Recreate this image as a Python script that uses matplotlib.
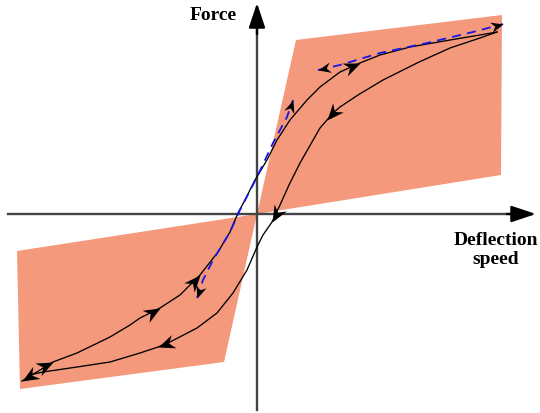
import numpy as np
import matplotlib
matplotlib.use('Agg')
import matplotlib.pyplot as plt
from matplotlib.markers import MarkerStyle
from matplotlib.path import Path
from matplotlib.transforms import Affine2D

# coordinates are relative to the origin of the force / deflection speed axes
upper_zone = [(0, 0), (39, 174), (245, 199), (244, 39)]
lower_zone = [(0, 0), (-33, -148), (-237, -175), (-240, -37)]

loading_x = [-235, -225, -204, -180, -147, -127, -117, -97, -77, -57, -39, -27, -19, -12, -2,
             10, 20, 33, 50, 63, 83, 103, 123, 153, 193, 223, 240]
loading_y = [-167, -161, -148, -139, -123, -111, -104, -94, -81, -61, -38, -18, 1, 14, 34,
             54, 74, 94, 114, 127, 142, 151, 159, 167, 174, 179, 182]

unloading_x = [240, 223, 193, 160, 126, 101, 83, 76, 70, 63, 43, 32, 23, 15, 6, 0, -10, -24,
               -40, -60, -87, -99, -117, -147, -180, -214, -228]
unloading_y = [182, 176, 166, 151, 134, 119, 107, 101, 94, 86, 51, 29, 9, -8, -21, -33, -56, -79,
               -99, -114, -128, -133, -139, -148, -153, -158, -161]

mid_dash_x = [-60, -54, -44, -39, -27, -17, 0, 16, 30, 36]
mid_dash_y = [-84, -66, -46, -38, -18, 4, 37, 71, 97, 114]

top_dash_x = [61, 83, 123, 170, 216, 246]
top_dash_y = [144, 149, 161, 171, 182, 190]

# point indices where an arrow head sits, pointing along the curve
loading_arrows = [2, 7, 9, 21]
unloading_arrows = [8, 13, 21]

salmon = '#f4997b'
axis_col = '#444444'
blue = '#1515e8'

stealth = Path([(0, 0), (-1, 0.42), (-0.68, 0), (-1, -0.42), (0, 0)],
               [Path.MOVETO, Path.LINETO, Path.LINETO, Path.LINETO, Path.CLOSEPOLY])


def head(ax, x, y, i, reverse=False, size=24):
    n = len(x)
    a, b = max(i - 1, 0), min(i + 1, n - 1)
    dx, dy = x[b] - x[a], y[b] - y[a]
    if reverse:
        dx, dy = -dx, -dy
    ang = np.degrees(np.arctan2(dy, dx))
    m = MarkerStyle(stealth, transform=Affine2D().rotate_deg(ang))
    ax.plot(x[i], y[i], marker=m, ms=size, color='black', mew=0, zorder=5)


fig = plt.figure(figsize=(5.4, 4.13), dpi=100)
ax = fig.add_axes([0, 0, 1, 1])
ax.set_xlim(-257, 283)
ax.set_ylim(-199, 214)
ax.axis('off')

ax.fill([p[0] for p in upper_zone], [p[1] for p in upper_zone], color=salmon, lw=0, zorder=1)
ax.fill([p[0] for p in lower_zone], [p[1] for p in lower_zone], color=salmon, lw=0, zorder=1)

# axes with arrows
ax.plot([0, 0], [-196, 190], color=axis_col, lw=1.7, zorder=2)
ax.plot([-249, 258], [0, 0], color=axis_col, lw=1.7, zorder=2)
ax.annotate('', xy=(0, 211), xytext=(0, 180),
            arrowprops=dict(arrowstyle='-|>,head_length=1.5,head_width=0.5', color='black', lw=1.7, shrinkA=0, shrinkB=0))
ax.annotate('', xy=(279, 0), xytext=(250, 0),
            arrowprops=dict(arrowstyle='-|>,head_length=1.5,head_width=0.5', color='black', lw=1.7, shrinkA=0, shrinkB=0))

ax.text(-44, 199, 'Force', fontsize=14, fontweight='bold', family='Liberation Serif', ha='center', va='center')
ax.text(239, -36, 'Deflection\nspeed', fontsize=14, fontweight='bold', family='Liberation Serif',
        ha='center', va='center', linespacing=1.15)

# hysteresis loop
ax.plot(loading_x, loading_y, color='black', lw=0.95, zorder=3, solid_joinstyle='round')
ax.plot(unloading_x, unloading_y, color='black', lw=0.95, zorder=3, solid_joinstyle='round')
for i in loading_arrows:
    head(ax, loading_x, loading_y, i)
for i in unloading_arrows:
    head(ax, unloading_x, unloading_y, i)
# unloading ends where loading starts
head(ax, loading_x, loading_y, 0, reverse=True)

# dashed blue paths
ax.plot(mid_dash_x, mid_dash_y, color=blue, lw=1.3, ls=(0, (5, 3.5)), zorder=4)
ax.plot(top_dash_x, top_dash_y, color=blue, lw=1.3, ls=(0, (5, 3.5)), zorder=4)
head(ax, mid_dash_x, mid_dash_y, 0, reverse=True, size=18)
head(ax, mid_dash_x, mid_dash_y, len(mid_dash_x) - 1, size=18)
head(ax, top_dash_x, top_dash_y, 0, reverse=True, size=18)
head(ax, top_dash_x, top_dash_y, len(top_dash_x) - 1, size=18)

fig.savefig('out.png', dpi=100)
